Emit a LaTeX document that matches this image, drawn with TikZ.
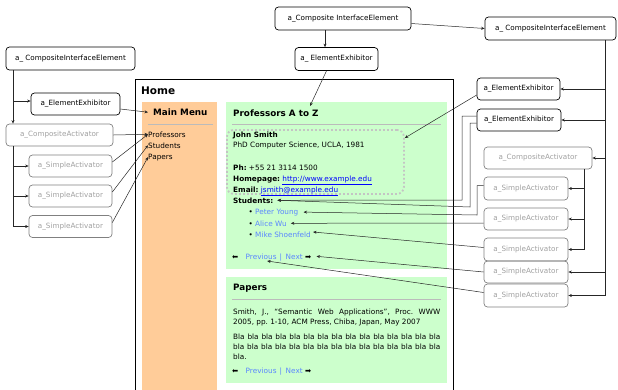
\documentclass[tikz,border=0pt]{standalone}
\usepackage{fontspec}
\setmainfont{DejaVu Sans}
\usetikzlibrary{arrows.meta}
\definecolor{menuor}{HTML}{FFCC99}
\definecolor{panelgr}{HTML}{CCFFCC}
\definecolor{lnk}{HTML}{0000FF}
\definecolor{lnktwo}{HTML}{5A86FF}
\definecolor{grayline}{HTML}{BBBBBB}
\definecolor{dotgray}{HTML}{C4C4C4}
\definecolor{graytext}{HTML}{A0A0A0}
\definecolor{grayborder}{HTML}{808080}
\frenchspacing
\begin{document}
\begin{tikzpicture}[x=1pt,y=-1pt,
  lbl/.style={draw=black, rounded corners=3.5pt, line width=0.7pt, inner sep=0pt, minimum height=22pt, font=\fontsize{7.2}{8}\selectfont},
  glbl/.style={lbl, draw=grayborder, text=graytext},
  arr/.style={-{Stealth[length=3.5pt,width=3pt]}, line width=0.5pt, draw=black!85},
  ln/.style={line width=0.6pt, draw=black!85},
  txt/.style={anchor=base west, inner sep=0pt, font=\fontsize{7.3}{8}\selectfont},
  ttl/.style={anchor=base west, inner sep=0pt, font=\fontsize{8.8}{10}\selectfont\bfseries},
  sep/.style={grayline, line width=1pt},
]
\useasboundingbox (0,0) rectangle (618,389);

% ---------- Home window ----------
\draw[line width=0.8pt] (135,395) -- (135,79) -- (453,79) -- (453,395);
\node[ttl, font=\fontsize{10.5}{12}\selectfont\bfseries] (home) at (141,94) {Home};

% Main menu
\fill[menuor] (142,102) rectangle (217,395);
\node[ttl] (mm) at (153,115.5) {Main Menu};
\draw[sep] (148,124) -- (213,124);
\node[txt] (mprof) at (148,137) {Professors};
\node[txt] (mstud) at (148,148) {Students};
\node[txt] (mpap) at (148,159) {Papers};

% Professors panel
\fill[panelgr] (226,102) rectangle (447,269);
\node[ttl] (pt) at (233,116.5) {Professors A to Z};
\draw[sep] (232,124) -- (441,124);
\node[draw=dotgray, line width=1.8pt, dash pattern=on 1.8pt off 2.2pt, rounded corners=7pt, minimum width=177pt, minimum height=64pt, anchor=north west, inner sep=0pt] (dotbox) at (226,129) {};
\node[txt] (js) at (233,137) {\bfseries John Smith};
\node[txt] (phd) at (233,147.5) {PhD Computer Science, UCLA, 1981};
\node[txt] (ph) at (233,170) {\textbf{Ph:} +55 21 3114 1500};
\node[txt] (hp) at (233,181) {\textbf{Homepage:} \textcolor{lnk}{\underline{http://www.example.edu}}};
\node[txt] (em) at (233,192.5) {\textbf{Email:} \textcolor{lnk}{\underline{jsmith@example.edu}}};
\node[txt] (stud) at (233,203) {\bfseries Students:};
\node[txt] (b1) at (248.5,214.8) {•};
\node[txt] (b2) at (248.5,226) {•};
\node[txt] (b3) at (248.5,237) {•};
\node[txt, text=lnktwo] (peter) at (255,214.8) {Peter Young};
\node[txt, text=lnktwo] (alice) at (255,226) {Alice Wu};
\node[txt, text=lnktwo] (mike) at (255,237) {Mike Shoenfeld};
\node[txt] (larr) at (232,259) {⬅};
\node[txt, text=lnktwo] (prev) at (245.5,259) {Previous};
\node[txt, text=lnktwo] (bar) at (279.5,259) {|};
\node[txt, text=lnktwo] (next) at (285.5,259) {Next};
\node[txt] (rarr) at (305,259) {➡};

% Papers panel
\fill[panelgr] (226,277) rectangle (447,383);
\node[ttl] (ppt) at (233,290.5) {Papers};
\draw[sep] (232,299) -- (441,299);
\node[txt] (c1) at (233,314.5) {\makebox[207pt][s]{Smith, J., “Semantic Web Applications”, Proc. WWW}};
\node[txt] (c2) at (233,324.5) {2005, pp. 1-10, ACM Press, Chiba, Japan, May 2007};
\node[txt] (bl1) at (233,339) {\makebox[207pt][s]{Bla bla bla bla bla bla bla bla bla bla bla bla bla bla bla}};
\node[txt] (bl2) at (233,349) {\makebox[207pt][s]{bla bla bla bla bla bla bla bla bla bla bla bla bla bla bla}};
\node[txt] (bl3) at (233,359) {bla.};
\node[txt] (larrb) at (232,373) {⬅};
\node[txt, text=lnktwo] (prevb) at (245.5,373) {Previous};
\node[txt, text=lnktwo] (barb) at (279.5,373) {|};
\node[txt, text=lnktwo] (nextb) at (285.5,373) {Next};
\node[txt] (rarrb) at (305,373) {➡};

% ---------- Left boxes ----------
\node[lbl, minimum width=129pt, minimum height=23pt] (CIE1) at (70.5,58.5) {a\_ CompositeInterfaceElement};
\node[lbl, minimum width=89pt] (EE1) at (75.5,104) {a\_ElementExhibitor};
\node[glbl, minimum width=107pt] (CA1) at (59.5,135) {a\_CompositeActivator};
\node[glbl, minimum width=83pt] (SA1) at (70.5,166) {a\_SimpleActivator};
\node[glbl, minimum width=83pt] (SA2) at (70.5,196) {a\_SimpleActivator};
\node[glbl, minimum width=83pt] (SA3) at (70.5,226.5) {a\_SimpleActivator};

% ---------- Top boxes ----------
\node[lbl, minimum width=136pt, minimum height=23pt] (CIE2) at (343,18.5) {a\_Composite InterfaceElement};
\node[lbl, minimum width=83pt, minimum height=23pt] (EE2) at (336.5,59) {a\_ ElementExhibitor};
\node[lbl, minimum width=131pt, minimum height=23pt] (CIE3) at (550.5,28.5) {a\_ CompositeInterfaceElement};

% ---------- Right boxes ----------
\node[lbl, minimum width=83pt] (EE3) at (518.5,89) {a\_ElementExhibitor};
\node[lbl, minimum width=84pt] (EE4) at (519,120) {a\_ElementExhibitor};
\node[glbl, minimum width=108pt] (CA2) at (538,158) {a\_CompositeActivator};
\node[glbl, minimum width=84pt, minimum height=23pt] (SA4) at (526,188.5) {a\_SimpleActivator};
\node[glbl, minimum width=84pt] (SA5) at (526,219) {a\_SimpleActivator};
\node[glbl, minimum width=84pt, minimum height=23pt] (SA6) at (526,249.5) {a\_SimpleActivator};
\node[glbl, minimum width=84pt] (SA7) at (526,272) {a\_SimpleActivator};
\node[glbl, minimum width=84pt, minimum height=23pt] (SA8) at (526,295.5) {a\_SimpleActivator};

% ---------- Trees ----------
\coordinate (lx) at (13,0);
\coordinate (e1) at ([yshift=3pt]EE1.west);
\draw[arr] (CIE1.south -| lx) -- (CA1.north -| lx);
\draw[arr] (e1 -| lx) -- (e1);
\draw[ln] (CA1.south -| lx) -- (SA3.west -| lx);
\foreach \n in {SA1,SA2,SA3} \draw[arr] (\n.west -| lx) -- (\n.west);

\coordinate (rx) at (605,0);
\draw[ln] (CIE3.south -| rx) -- (SA8.east -| rx);
\foreach \n in {EE3,EE4,CA2,SA7,SA8} \draw[arr] (\n.east -| rx) -- (\n.east);
\coordinate (sx) at (584,0);
\draw[ln] (CA2.south -| sx) -- (SA6.east -| sx);
\foreach \n in {SA4,SA5,SA6} \draw[arr] (\n.east -| sx) -- (\n.east);

\coordinate (vx) at (325,0);
\draw[arr] (CIE2.south -| vx) -- (EE2.north -| vx);
\draw[arr] ([yshift=-5pt]CIE2.east) -- (CIE3.west);
\coordinate (ttgt) at (310,106);
\draw[arr] ([xshift=-10pt]EE2.south) -- (ttgt);

% ---------- Left to menu ----------
\draw[arr] ([yshift=-5pt]EE1.east) -- ([xshift=-5pt]mm.west);
\draw[arr] (CA1.east) -- (mprof.west);
\draw[arr] ([yshift=4pt]SA1.east) -- (mprof.west);
\draw[arr] ([yshift=4pt]SA2.east) -- (mstud.west);
\draw[arr] ([yshift=4pt]SA3.east) -- (mpap.west);

% ---------- Right to content ----------
\draw[arr] ([yshift=-6pt]EE3.west) -- ([yshift=-9pt]dotbox.north east);
\coordinate (k1) at (462,200);
\coordinate (k2) at (470,207);
\coordinate (k3) at (477,215);
\draw[arr] ([yshift=4pt]EE4.west) -| (k1) -- ([xshift=4pt]stud.east);
\draw[arr] ([yshift=-3pt]EE4.west) -| (k2) -- ([xshift=4pt]stud.east);
\draw[arr] ([yshift=3pt]SA4.west) -| (k3) -- ([shift={(5pt,2.7pt)}]peter.base east);
\draw[arr] ([yshift=-4pt]SA5.west) -- ([shift={(4pt,2.7pt)}]alice.base east);
\draw[arr] ([yshift=2pt]SA6.west) -- ([shift={(2pt,5pt)}]mike.base east);
\draw[arr] (SA7.west) -- ([shift={(5pt,2.7pt)}]rarr.base east);
\draw[arr] ([yshift=3pt]SA8.west) -- ([shift={(6pt,-2pt)}]prev.base);
\end{tikzpicture}
\end{document}
